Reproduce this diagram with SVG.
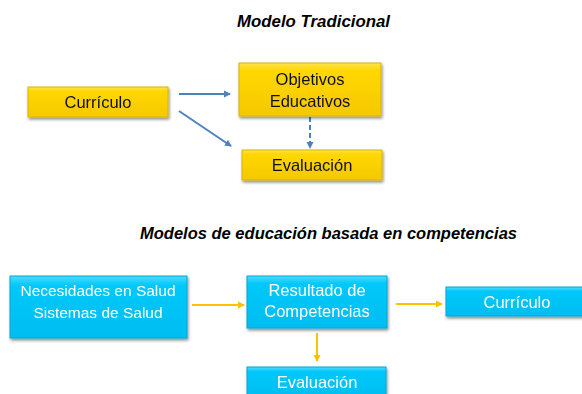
<svg xmlns="http://www.w3.org/2000/svg" width="582" height="394" viewBox="0 0 582 394">
<style>
.t{font-family:"Liberation Sans",Arial,sans-serif;font-size:16.5px;text-anchor:middle}
.dark{fill:#111111}
.light{fill:#ffffff}
.title{font-family:"Liberation Sans",Arial,sans-serif;font-size:16.5px;font-weight:bold;font-style:italic;fill:#000}
.y{fill:url(#gy);stroke:#d9b400;stroke-width:1}
.c{fill:url(#gc);stroke:#00a8d8;stroke-width:1}
.blue{stroke:#4f81bd;stroke-width:2;fill:none}
.gold{stroke:#ffc000;stroke-width:2;fill:none}
</style>
<defs>
<linearGradient id="gy" x1="0" y1="0" x2="0" y2="1">
<stop offset="0" stop-color="#ffe34d"/>
<stop offset="0.15" stop-color="#ffd700"/>
<stop offset="1" stop-color="#f5c800"/>
</linearGradient>
<linearGradient id="gc" x1="0" y1="0" x2="0" y2="1">
<stop offset="0" stop-color="#4fdcff"/>
<stop offset="0.15" stop-color="#00c8fa"/>
<stop offset="1" stop-color="#00bdf0"/>
</linearGradient>
<filter id="sh" x="-10%" y="-10%" width="125%" height="135%">
<feGaussianBlur in="SourceAlpha" stdDeviation="1.5"/>
<feOffset dx="1" dy="2" result="b"/>
<feComponentTransfer><feFuncA type="linear" slope="0.45"/></feComponentTransfer>
<feMerge><feMergeNode/><feMergeNode in="SourceGraphic"/></feMerge>
</filter>
<marker id="ab" markerWidth="8" markerHeight="8" refX="6" refY="4" orient="auto" markerUnits="userSpaceOnUse">
<path d="M0,0.5 L7,4 L0,7.5 Z" fill="#4f81bd"/>
</marker>
<marker id="ag" markerWidth="8" markerHeight="8" refX="6" refY="4" orient="auto" markerUnits="userSpaceOnUse">
<path d="M0,0.5 L7,4 L0,7.5 Z" fill="#ffc000"/>
</marker>
</defs>
<rect width="582" height="394" fill="#ffffff"/>
<text class="title" x="237" y="27" textLength="153" lengthAdjust="spacingAndGlyphs">Modelo Tradicional</text>
<text class="title" x="140" y="239" textLength="377" lengthAdjust="spacingAndGlyphs">Modelos de educación basada en competencias</text>

<g id="connectors">
<line class="blue" x1="179" y1="94" x2="230" y2="94" marker-end="url(#ab)"/>
<line class="blue" x1="179" y1="111" x2="231" y2="146" marker-end="url(#ab)"/>
<line class="blue" x1="310" y1="117" x2="310" y2="148" stroke-dasharray="5,3" marker-end="url(#ab)"/>
<line class="gold" x1="192" y1="305" x2="244" y2="305" marker-end="url(#ag)"/>
<line class="gold" x1="396" y1="304" x2="442" y2="304" marker-end="url(#ag)"/>
<line class="gold" x1="317" y1="333" x2="317" y2="361" marker-end="url(#ag)"/>
</g>

<g id="n-curriculo-trad" filter="url(#sh)">
<rect class="y" x="28" y="87" width="140" height="30"/>
<text class="t dark" x="98" y="108">Currículo</text>
</g>
<g id="n-objetivos" filter="url(#sh)">
<rect class="y" x="239" y="63" width="142" height="53"/>
<text class="t dark" x="310" y="85">Objetivos</text>
<text class="t dark" x="310" y="107">Educativos</text>
</g>
<g id="n-evaluacion-trad" filter="url(#sh)">
<rect class="y" x="242" y="150" width="140" height="30"/>
<text class="t dark" x="312" y="171">Evaluación</text>
</g>

<g id="n-necesidades" filter="url(#sh)">
<rect class="c" x="10" y="276" width="177" height="62"/>
<text class="t light" x="98" y="296" style="font-size:15.5px">Necesidades en Salud</text>
<text class="t light" x="98" y="318" style="font-size:15.5px">Sistemas de Salud</text>
</g>
<g id="n-resultado" filter="url(#sh)">
<rect class="c" x="247" y="276" width="140" height="52"/>
<text class="t light" x="317" y="296">Resultado de</text>
<text class="t light" x="317" y="317">Competencias</text>
</g>
<g id="n-curriculo-comp" filter="url(#sh)">
<rect class="c" x="446" y="287" width="140" height="29"/>
<text class="t light" x="517" y="308">Currículo</text>
</g>
<g id="n-evaluacion-comp" filter="url(#sh)">
<rect class="c" x="247" y="367" width="139" height="32"/>
<text class="t light" x="317" y="388">Evaluación</text>
</g>
</svg>
